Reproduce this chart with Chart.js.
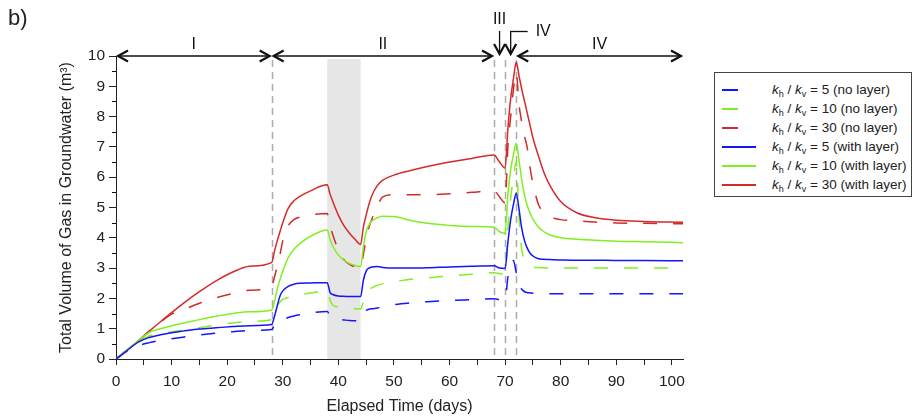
<!DOCTYPE html>
<html>
<head>
<meta charset="utf-8">
<script src="https://cdn.jsdelivr.net/npm/chart.js@4.4.1/dist/chart.umd.min.js"></script>
<style>
  body { margin: 0; background: #fff; font-family: "Liberation Sans", Arial, sans-serif; color: #222; }
  #wrap { position: relative; width: 921px; height: 418px; }
  #panel { position: absolute; left: 8px; top: 5px; font-size: 22px; }
  #legend { position: absolute; left: 714px; top: 72px; width: 198px; height: 125px; border: 1px solid #444;
            box-sizing: border-box; padding-top: 7px; font-size: 13.5px; background: #fff; }
  .row { height: 19px; position: relative; }
  .sw { position: absolute; left: 7px; top: 9px; height: 2px; }
  .lbl { position: absolute; left: 57px; top: 0; line-height: 19px; white-space: nowrap; }
  sub { font-size: 9px; vertical-align: -3px; line-height: 0; }
</style>
</head>
<body>
<div id="wrap">
  <canvas id="chart" width="921" height="418"></canvas>
  <div id="panel">b)</div>
  <div id="legend"></div>
</div>
<script>
// elapsed time (days), shared by every series
const T = [0, 2, 4, 6, 8, 10, 12, 15, 18, 21, 24, 28,
  28.5, 29, 29.5, 30, 31, 32, 33, 35, 38,
  38.5, 39, 40, 41, 42, 43, 44,
  44.5, 45, 45.5, 46, 47, 48, 50, 53, 56, 60, 64, 68,
  69, 70, 70.5, 71, 71.5, 72,
  72.5, 73, 73.5, 74, 74.5, 75, 76, 77, 78, 80, 83, 86, 90, 95, 102];

// total volume of gas (m3), no layer (dashed)
const blueNoLayer = [0, 0.26, 0.44, 0.54, 0.61, 0.67, 0.72, 0.79, 0.85, 0.9, 0.94, 0.97,
  1.1, 1.22, 1.27, 1.3, 1.37, 1.42, 1.46, 1.52, 1.57,
  1.42, 1.36, 1.31, 1.29, 1.27, 1.26, 1.26,
  1.42, 1.6, 1.64, 1.66, 1.68, 1.72, 1.79, 1.85, 1.89, 1.93, 1.96, 1.99,
  1.96, 1.95, 2.7, 3.1, 3.25, 2.85,
  2.45, 2.3, 2.22, 2.19, 2.18, 2.17, 2.16, 2.16, 2.15, 2.15, 2.15, 2.15, 2.15, 2.15, 2.15];
const greenNoLayer = [0, 0.3, 0.58, 0.76, 0.85, 0.9, 0.95, 1.03, 1.12, 1.19, 1.24, 1.3,
  1.55, 1.75, 1.88, 1.97, 2.03, 2.08, 2.12, 2.18, 2.25,
  1.95, 1.78, 1.72, 1.69, 1.67, 1.66, 1.65,
  1.89, 2.15, 2.28, 2.35, 2.43, 2.48, 2.55, 2.63, 2.68, 2.74, 2.8, 2.85,
  2.82, 2.8, 4.3, 5.3, 6.0, 6.5,
  4.7, 3.6, 3.3, 3.15, 3.08, 3.04, 3.02, 3.01, 3.0, 3.0, 3.0, 3.0, 3.0, 3.0, 3.0];
const redNoLayer = [0, 0.3, 0.6, 0.92, 1.22, 1.48, 1.62, 1.84, 2.02, 2.16, 2.27, 2.37,
  2.7, 3.05, 3.45, 3.9, 4.4, 4.6, 4.68, 4.76, 4.8,
  4.4, 4.1, 3.6, 3.28, 3.12, 3.04, 3.0,
  3.45, 3.95, 4.35, 4.6, 5.05, 5.35, 5.42, 5.42, 5.42, 5.45, 5.5, 5.55,
  5.35, 5.15, 7.0, 8.0, 8.9, 9.45,
  8.4, 7.8, 7.35, 6.95, 6.3, 5.8, 5.1, 4.84, 4.7, 4.6, 4.56, 4.52, 4.49, 4.48, 4.46];

// total volume of gas (m3), with layer (solid)
const blueLayer = [0, 0.28, 0.56, 0.71, 0.8, 0.87, 0.92, 0.99, 1.03, 1.07, 1.1, 1.14,
  1.4, 1.75, 2.08, 2.25, 2.4, 2.47, 2.5, 2.51, 2.52,
  2.2, 2.13, 2.08, 2.07, 2.06, 2.06, 2.06,
  2.6, 2.9, 3.0, 3.04, 3.05, 3.02, 3.0, 3.0, 3.01, 3.04, 3.06, 3.08,
  3.0, 2.99, 3.85, 4.6, 5.1, 5.47,
  4.95, 4.3, 3.9, 3.65, 3.49, 3.4, 3.31, 3.29, 3.28, 3.27, 3.26, 3.26, 3.25, 3.25, 3.24];
const greenLayer = [0, 0.3, 0.6, 0.88, 1.0, 1.1, 1.18, 1.3, 1.41, 1.5, 1.56, 1.62,
  1.9, 2.3, 2.62, 2.9, 3.35, 3.62, 3.8, 4.05, 4.26,
  3.95, 3.72, 3.43, 3.26, 3.15, 3.09, 3.05,
  3.7, 4.2, 4.42, 4.55, 4.66, 4.71, 4.7, 4.57, 4.48, 4.41, 4.37, 4.35,
  4.2, 4.15, 5.45, 6.25, 6.75, 7.12,
  6.55, 5.9, 5.4, 5.05, 4.81, 4.62, 4.36, 4.2, 4.1, 4.0, 3.95, 3.92, 3.89, 3.87, 3.84];
const redLayer = [0, 0.3, 0.6, 0.92, 1.23, 1.53, 1.82, 2.22, 2.58, 2.87, 3.06, 3.18,
  3.55, 3.9, 4.2, 4.5, 4.98, 5.22, 5.36, 5.55, 5.75,
  5.45, 5.2, 4.75, 4.4, 4.15, 3.95, 3.78,
  4.35, 4.75, 5.1, 5.38, 5.72, 5.9, 6.07, 6.22, 6.35, 6.5, 6.62, 6.73,
  6.5, 6.3, 7.6, 8.6, 9.25, 9.8,
  9.35, 8.9, 8.5, 8.1, 7.7, 7.3, 6.7, 6.15, 5.75, 5.2, 4.82, 4.67, 4.58, 4.54, 4.51];

const ratios = [5, 10, 30];
const lineColors = ['#1414ff', '#80f020', '#d42a2a'];

// axis ticks and annotations
const xTicks = [0, 5, 10, 15, 20, 25, 30, 35, 40, 45, 50, 55, 60, 65, 70, 75, 80, 85, 90, 95, 100];
const yTicks = [0, 1, 2, 3, 4, 5, 6, 7, 8, 9, 10];
const phaseLines = [28, 68, 70, 72];
const shadeRange = [38, 44];
const phaseSpans = [[0, 28, 'I'], [28, 68, 'II'], [72, 102, 'IV']];
const phaseDrops = [[69, 'III'], [71, 'IV']];

const FONT = '"Liberation Sans", Arial, sans-serif';
Chart.defaults.font.family = FONT;
Chart.defaults.color = '#222';

const noLayer = [blueNoLayer, greenNoLayer, redNoLayer];
const withLayer = [blueLayer, greenLayer, redLayer];

function pts(vals) {
  return T.map((t, i) => ({ x: t, y: vals[i] }));
}

const datasets = [];
ratios.forEach((r, i) => {
  datasets.push({
    label: 'kh/kv = ' + r + ' (no layer)',
    data: pts(noLayer[i]),
    borderColor: lineColors[i],
    borderDash: [14, 16],
    order: 1,
  });
});
ratios.forEach((r, i) => {
  datasets.push({
    label: 'kh/kv = ' + r + ' (with layer)',
    data: pts(withLayer[i]),
    borderColor: lineColors[i],
    order: 0,
  });
});

function head(ctx, x, y, dir) {
  ctx.beginPath();
  if (dir === 'r') { ctx.moveTo(x - 10, y - 5.5); ctx.lineTo(x, y); ctx.lineTo(x - 10, y + 5.5); }
  if (dir === 'l') { ctx.moveTo(x + 10, y - 5.5); ctx.lineTo(x, y); ctx.lineTo(x + 10, y + 5.5); }
  if (dir === 'd') { ctx.moveTo(x - 5.5, y - 10); ctx.lineTo(x, y); ctx.lineTo(x + 5.5, y - 10); }
  ctx.stroke();
}

const phasePlugin = {
  id: 'phases',
  beforeDatasetsDraw(chart) {
    const { ctx, chartArea: a, scales: { x } } = chart;
    ctx.save();
    // shaded interval
    const x0 = x.getPixelForValue(shadeRange[0]);
    const x1 = x.getPixelForValue(shadeRange[1]);
    ctx.fillStyle = '#e6e6e6';
    ctx.fillRect(x0, a.top + 3, x1 - x0, a.bottom - a.top - 3);
    // phase boundaries
    ctx.strokeStyle = '#ababab';
    ctx.lineWidth = 1.5;
    ctx.setLineDash([7, 5]);
    phaseLines.forEach(d => {
      const px = Math.round(x.getPixelForValue(d)) + 0.5;
      ctx.beginPath();
      ctx.moveTo(px, a.top + 4);
      ctx.lineTo(px, a.bottom);
      ctx.stroke();
    });
    ctx.restore();
  },
  afterDraw(chart) {
    const { ctx, chartArea: a, scales: { x, y } } = chart;
    ctx.save();
    ctx.strokeStyle = '#111';
    ctx.fillStyle = '#111';
    ctx.font = '16px ' + FONT;
    ctx.textAlign = 'center';
    ctx.textBaseline = 'middle';

    // minor y ticks
    ctx.lineWidth = 1;
    for (let v = 0.5; v < 10; v += 1) {
      const py = Math.round(y.getPixelForValue(v)) + 0.5;
      ctx.beginPath();
      ctx.moveTo(a.left - 4, py);
      ctx.lineTo(a.left, py);
      ctx.stroke();
    }

    // double arrows along the top
    const ay = a.top;
    phaseSpans.forEach(([from, to, label]) => {
      const p0 = x.getPixelForValue(from) + 2;
      const p1 = x.getPixelForValue(to) - 2;
      ctx.lineWidth = 1.3;
      ctx.beginPath();
      ctx.moveTo(p0, ay);
      ctx.lineTo(p1, ay);
      ctx.stroke();
      ctx.lineWidth = 2.2;
      head(ctx, p0, ay, 'l');
      head(ctx, p1, ay, 'r');
      ctx.fillText(label, (p0 + p1) / 2, ay - 11);
    });

    // down arrows for short phases
    phaseDrops.forEach(([d, label], i) => {
      const px = x.getPixelForValue(d);
      ctx.lineWidth = 1.3;
      ctx.beginPath();
      ctx.moveTo(px, 31);
      ctx.lineTo(px, ay - 2);
      ctx.stroke();
      ctx.lineWidth = 2.2;
      head(ctx, px, ay - 2, 'd');
      ctx.lineWidth = 1.3;
      if (i === 0) {
        ctx.fillText(label, px, 20);
      } else {
        ctx.beginPath();
        ctx.moveTo(px, 31.5);
        ctx.lineTo(px + 17, 31.5);
        ctx.stroke();
        ctx.textAlign = 'left';
        ctx.fillText(label, px + 25, 32);
        ctx.textAlign = 'center';
      }
    });
    ctx.restore();
  }
};

new Chart(document.getElementById('chart'), {
  type: 'line',
  data: { datasets: datasets },
  options: {
    responsive: false,
    animation: false,
    events: [],
    layout: { padding: { top: 56, right: 238, left: 0, bottom: 0 } },
    elements: {
      point: { radius: 0 },
      line: { borderWidth: 1.5, cubicInterpolationMode: 'monotone', fill: false },
    },
    scales: {
      x: {
        type: 'linear',
        min: 0,
        max: 102,
        afterBuildTicks: s => { s.ticks = xTicks.map(v => ({ value: v })); },
        afterFit: s => { s.height = 59; },
        ticks: {
          font: { size: 15.5 },
          color: '#222',
          padding: 7,
          maxRotation: 0,
          autoSkip: false,
          callback: v => (v % 10 === 0 ? v : ''),
        },
        grid: { drawOnChartArea: false, tickLength: 6, color: '#222' },
        border: { color: '#222', width: 1 },
        title: {
          display: true,
          text: 'Elapsed Time (days)',
          font: { size: 16 },
          color: '#222',
          padding: { top: 0, bottom: 2 },
        },
      },
      y: {
        type: 'linear',
        min: 0,
        max: 10,
        afterBuildTicks: s => { s.ticks = yTicks.map(v => ({ value: v })); },
        afterFit: s => { s.width = 116; },
        ticks: { font: { size: 15.5 }, color: '#222', padding: 4 },
        grid: { drawOnChartArea: false, tickLength: 7, color: '#222' },
        border: { color: '#222', width: 1 },
        title: {
          display: true,
          text: 'Total Volume of Gas in Groundwater (m³)',
          font: { size: 16 },
          color: '#222',
          padding: { top: 57, bottom: 0 },
        },
      },
    },
    plugins: {
      legend: { display: false },
      tooltip: { enabled: false },
    },
  },
  plugins: [phasePlugin],
});

// legend with subscripts, in the same order as the reference
const legendEl = document.getElementById('legend');
const legendRows = [];
['no layer', 'with layer'].forEach((layer, j) => {
  ratios.forEach((r, i) => {
    legendRows.push('<div class="row"><span class="sw" style="width:' + (j === 0 ? 16 : 34) +
      'px;background:' + lineColors[i] + '"></span><span class="lbl"><i>k</i><sub>h</sub> / <i>k</i><sub>v</sub> = ' +
      r + ' (' + layer + ')</span></div>');
  });
});
legendEl.innerHTML = legendRows.join('');
</script>
</body>
</html>
